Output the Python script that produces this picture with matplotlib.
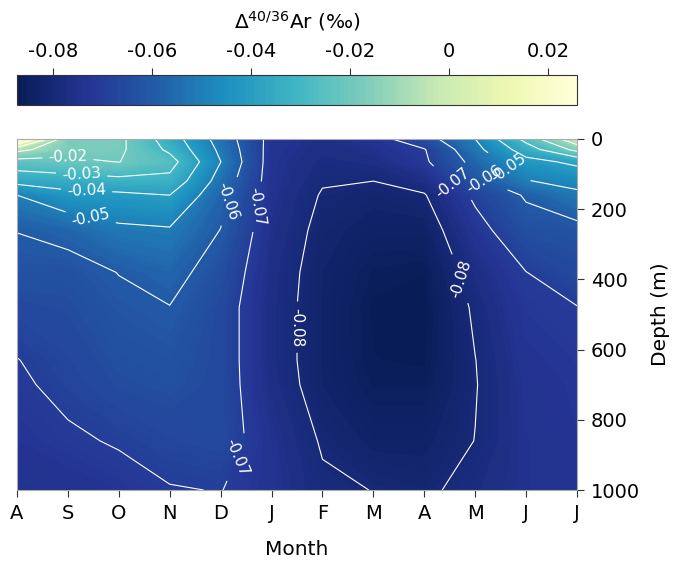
import numpy as np
import matplotlib
matplotlib.use("Agg")
import matplotlib.pyplot as plt
from matplotlib.ticker import FuncFormatter

plt.rcParams['font.family'] = ['DejaVu Sans']
plt.rcParams['mathtext.fontset'] = 'dejavusans'
plt.rcParams['axes.unicode_minus'] = False

months = ['A', 'S', 'O', 'N', 'D', 'J', 'F', 'M', 'A', 'M', 'J', 'J']
depths = [0, 30, 65, 120, 160, 260, 380, 480, 630, 700, 860, 1000]

# one list per month: values (permil) at the depths above
col_aug = [0.0259, -0.007, -0.024, -0.037, -0.050, -0.0598, -0.063, -0.066, -0.0702, -0.0712, -0.073, -0.0745]
col_sep = [-0.018, -0.017, -0.022, -0.035, -0.043, -0.057, -0.0635, -0.065, -0.067, -0.068, -0.0712, -0.0745]
col_oct = [-0.0175, -0.018, -0.0198, -0.033, -0.042, -0.052, -0.0598, -0.062, -0.064, -0.065, -0.0693, -0.073]
col_nov = [-0.035, -0.032, -0.026, -0.033, -0.040, -0.051, -0.057, -0.0602, -0.063, -0.064, -0.067, -0.0704]
col_dec = [-0.054, -0.052, -0.0499, -0.054, -0.057, -0.0602, -0.064, -0.066, -0.066, -0.066, -0.066, -0.0698]
col_jan = [-0.073, -0.0735, -0.074, -0.074, -0.0745, -0.0755, -0.0765, -0.077, -0.077, -0.0765, -0.0745, -0.074]
col_feb = [-0.0765, -0.077, -0.078, -0.0795, -0.0805, -0.0818, -0.0828, -0.083, -0.083, -0.0828, -0.0806, -0.079]
col_mar = [-0.0735, -0.075, -0.077, -0.080, -0.082, -0.084, -0.086, -0.0868, -0.0865, -0.086, -0.0835, -0.0801]
col_apr = [-0.064, -0.0705, -0.0714, -0.077, -0.0805, -0.084, -0.0865, -0.0873, -0.0868, -0.086, -0.0835, -0.0812]
col_may = [-0.050, -0.053, -0.057, -0.0625, -0.0685, -0.073, -0.077, -0.079, -0.0801, -0.0803, -0.0799, -0.0778]
col_jun = [-0.027, -0.035, -0.043, -0.0505, -0.059, -0.064, -0.0701, -0.072, -0.0735, -0.074, -0.0745, -0.0745]
col_jul = [-0.002, -0.017, -0.038, -0.047, -0.052, -0.063, -0.066, -0.0702, -0.072, -0.0725, -0.073, -0.0735]

line_levels = [-0.08, -0.07, -0.06, -0.05, -0.04, -0.03, -0.02, -0.01, 0.0, 0.01, 0.02]
cbar_ticks = [-0.08, -0.06, -0.04, -0.02, 0.0, 0.02]
depth_ticks = [0, 200, 400, 600, 800, 1000]

# where contour labels are placed (month index, depth)
label_spots = [(1.0, 55), (1.27, 97), (1.37, 140), (1.47, 208),
               (4.24, 180), (4.76, 194), (4.31, 906),
               (5.51, 536), (8.75, 396),
               (8.6, 117), (9.25, 103), (9.67, 80)]

Z = np.array([col_aug, col_sep, col_oct, col_nov, col_dec, col_jan, col_feb,
              col_mar, col_apr, col_may, col_jun, col_jul]).T
X = np.arange(len(months))
Y = np.array(depths)

fig = plt.figure(figsize=(6.77, 5.71), dpi=100)
ax = fig.add_axes([17/677, 1-490/571, 560/677, 351/571])
cax = fig.add_axes([17/677, 1-105/571, 560/677, 30/571])

fill_levels = np.linspace(Z.min(), Z.max(), 150)
cf = ax.contourf(X, Y, Z, levels=fill_levels, cmap='YlGnBu_r')
cs = ax.contour(X, Y, Z, levels=line_levels, colors='white', linewidths=0.8,
                linestyles='solid', negative_linestyles='solid')
fmt = lambda v: f'{v:g}'
ax.clabel(cs, fmt=fmt, fontsize=11, inline=True, inline_spacing=6,
          manual=label_spots)

ax.set_xlim(0, len(months) - 1)
ax.set_ylim(1000, 0)
ax.set_xticks(X)
ax.set_xticklabels(months)
ax.yaxis.tick_right()
ax.yaxis.set_label_position('right')
ax.set_yticks(depth_ticks)
ax.set_xlabel('Month', fontsize=14.5, labelpad=12)
ax.set_ylabel('Depth (m)', fontsize=14.5, labelpad=8)
ax.tick_params(labelsize=14, length=5, width=0.8, color='#333333', pad=5)
for s in ax.spines.values():
    s.set_color('#aaaaaa')
    s.set_linewidth(0.8)

cb = fig.colorbar(cf, cax=cax, orientation='horizontal', ticks=cbar_ticks)
cb.formatter = FuncFormatter(lambda v, p: f'{v:g}')
cb.update_ticks()
cax.xaxis.set_ticks_position('top')
cax.xaxis.set_label_position('top')
cax.tick_params(labelsize=14, length=5, width=0.8, color='#333333', pad=5)
cb.set_label(r'$\Delta^{40/36}$Ar (‰)', fontsize=14.5, labelpad=10)
cb.outline.set_linewidth(0.8)
cb.outline.set_edgecolor('#333333')

fig.savefig('out.png', dpi=100)
